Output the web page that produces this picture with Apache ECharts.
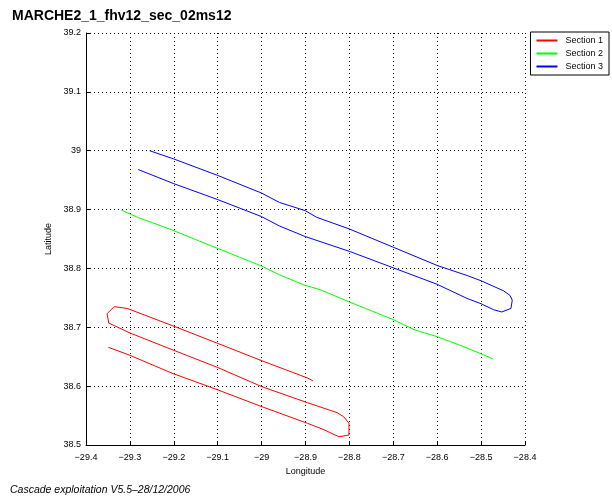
<!DOCTYPE html>
<html>
<head>
<meta charset="utf-8">
<script src="https://cdn.jsdelivr.net/npm/echarts@6/dist/echarts.min.js"></script>
<style>
  html, body { margin: 0; padding: 0; background: #fff; }
  #chart { width: 612px; height: 501px; }
</style>
</head>
<body>
<div id="chart"></div>
<script>
// section tracks (longitude / latitude)
const sec1Lon = [-29.349, -29.302, -29.204, -29.101, -28.999, -28.896, -28.858, -28.824,
  -28.801, -28.801, -28.813, -28.828,
  -28.896, -28.999, -29.101, -29.204, -29.302, -29.336, -29.348,
  -29.352, -29.336, -29.306,
  -29.204, -29.101, -28.999, -28.896, -28.883];
const sec1Lat = [38.666, 38.653, 38.622, 38.594, 38.565, 38.537, 38.526, 38.514,
  38.517, 38.537, 38.548, 38.555,
  38.572, 38.599, 38.632, 38.662, 38.691, 38.703, 38.707,
  38.723, 38.735, 38.732,
  38.703, 38.673, 38.643, 38.614, 38.609];

const sec2Lon = [-29.319, -29.28, -29.25, -29.206, -29.15, -29.1, -29.05, -29.0, -28.959,
  -28.9, -28.867, -28.8, -28.75, -28.7, -28.653, -28.6, -28.55, -28.5, -28.472];
const sec2Lat = [38.899, 38.886, 38.878, 38.866, 38.849, 38.834, 38.819, 38.804, 38.789,
  38.771, 38.764, 38.743, 38.728, 38.713, 38.696, 38.684, 38.670, 38.655, 38.646];

const sec3Lon = [-29.255, -29.2, -29.1, -29.0, -28.959, -28.9, -28.875, -28.8, -28.7, -28.6,
  -28.532, -28.5, -28.449, -28.434, -28.429, -28.432, -28.453, -28.472, -28.5, -28.532,
  -28.6, -28.7, -28.8, -28.9, -28.959, -29.0, -29.1, -29.2, -29.281];
const sec3Lat = [39.0, 38.986, 38.958, 38.928, 38.912, 38.898, 38.887, 38.867, 38.836, 38.805,
  38.788, 38.779, 38.762, 38.754, 38.746, 38.732, 38.726, 38.730, 38.740, 38.749,
  38.773, 38.801, 38.829, 38.854, 38.872, 38.888, 38.917, 38.944, 38.968];

const sectionNames = ['Section 1', 'Section 2', 'Section 3'];
const sectionColors = ['#ff0000', '#00ff00', '#0000ff'];

const pairs = (lon, lat) => lon.map((x, i) => [x, lat[i]]);
const tracks = [pairs(sec1Lon, sec1Lat), pairs(sec2Lon, sec2Lat), pairs(sec3Lon, sec3Lat)];

const font = 'Liberation Sans, Arial, sans-serif';
const fmt = (v) => String(+v.toFixed(1)).replace('-', '\u2212');

const chart = echarts.init(document.getElementById('chart'));

const dotted = { show: true, lineStyle: { color: '#000', type: [1, 3], width: 1 } };
const axisBase = {
  type: 'value',
  axisLine: { show: true, lineStyle: { color: '#000', width: 1 } },
  axisTick: { show: true, inside: true, length: 4, lineStyle: { color: '#000' } },
  splitLine: dotted
};

chart.setOption({
  animation: false,
  backgroundColor: '#fff',
  title: {
    text: 'MARCHE2_1_fhv12_sec_02ms12',
    left: 7, top: 4,
    textStyle: { fontSize: 14, fontWeight: 'bold', fontFamily: font, color: '#000' }
  },
  legend: {
    data: sectionNames,
    orient: 'vertical',
    right: 3, top: 32,
    padding: [4, 6, 4, 6],
    itemGap: 4,
    itemWidth: 21, itemHeight: 2,
    icon: 'rect',
    backgroundColor: '#fff',
    borderColor: '#000', borderWidth: 1,
    textStyle: { fontSize: 9, fontFamily: font, color: '#000', padding: [0, 0, 0, 3] }
  },
  grid: { left: 86, top: 33, width: 439, height: 412, show: false },
  xAxis: Object.assign({}, axisBase, {
    min: -29.4, max: -28.4, interval: 0.1,
    name: 'Longitude', nameLocation: 'middle', nameGap: 20,
    nameTextStyle: { fontSize: 9, fontFamily: font, color: '#000' },
    axisLabel: { color: '#000', fontSize: 9, fontFamily: font, formatter: fmt }
  }),
  yAxis: Object.assign({}, axisBase, {
    min: 38.5, max: 39.2, interval: 0.1,
    name: 'Latitude', nameLocation: 'middle', nameGap: 25,
    nameTextStyle: { fontSize: 9, fontFamily: font, color: '#000' },
    axisLabel: { color: '#000', fontSize: 9, fontFamily: font, formatter: fmt, margin: 5 }
  }),
  graphic: [{
    type: 'text', left: 10, top: 485,
    style: {
      text: 'Cascade exploitation V5.5\u201328/12/2006',
      font: 'italic 10.5px ' + font, fill: '#000'
    }
  }],
  series: tracks.map((d, i) => ({
    name: sectionNames[i],
    type: 'line',
    data: d,
    symbol: 'none',
    lineStyle: { color: sectionColors[i], width: 1 },
    itemStyle: { color: sectionColors[i] }
  }))
});
</script>
</body>
</html>
